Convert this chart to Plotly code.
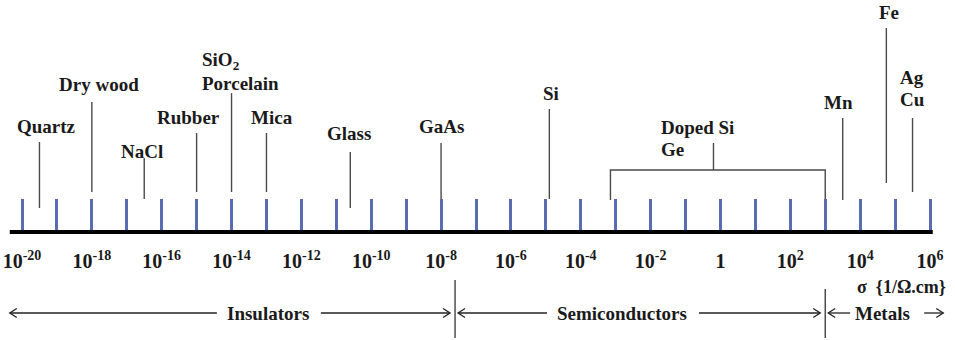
import plotly.graph_objects as go

# ---- data -------------------------------------------------------------
# conductivity scale: decades of sigma in 1/(ohm.cm)
exponents = list(range(-20, 7))
major_exp = [e for e in exponents if e % 2 == 0]
minor_exp = [e for e in exponents if e % 2 != 0]
tick_labels = ["1" if e == 0 else f"10<sup>{e}</sup>" for e in major_exp]

materials = ["Quartz", "Dry wood", "NaCl", "Rubber", "SiO<sub>2</sub><br>Porcelain",
             "Mica", "Glass", "GaAs", "Si", "Mn", "Fe", "Ag<br>Cu"]
log_sigma = [-19.5, -18, -16.5, -15, -14, -13, -10.6, -8, -4.9, 3.5, 4.75, 5.5]

doped_label = "Doped Si<br>Ge"
doped_range = [-3.15, 3.0]
doped_mid = -0.2

classes = ["Insulators", "Semiconductors", "Metals"]
class_edges = [-20.35, -7.6, 3.0, 6.38]
class_mid = [-12.96, -2.82, 4.63]
unit_label = "σ\u00a0 {1/Ω.cm}"

# ---- drawing layout (pixel heights above the scale line) ---------------
stem_base = [24, 40, 33, 40, 40, 40, 24, 33, 33, 32, 49, 40]
stem_top = [90, 130, 74, 99, 139, 99, 80, 89, 123, 114, 204, 114]
label_y = [106, 148, 81, 115, 171, 115, 99, 106, 139, 130, 220, 155]
label_dx = [7, 7, -2, -8, -32, 6, -1, 0, 2, -4, 3, -15]
line_gap = 22
doped_base, doped_bar, doped_stem, doped_y, doped_dx = 32, 62, 89, 105, -54
class_half = [41, 65, 30]

W, H = 955, 340
PX = 908 / 26                 # pixels per decade
X0 = -20 - 22 / PX            # left edge of the page in decades
Y_AXIS = 232                  # pixel row of the scale line
FONT = "Liberation Serif"
INK = "#1a1a1a"
STEM = "#4a4a4a"
TICK_BLUE = "#5a6cb0"

fig = go.Figure()

# material stems
xs, ys = [], []
for v, b, t in zip(log_sigma, stem_base, stem_top):
    xs += [v, v, None]
    ys += [b, t, None]
# bracket spanning the doped-semiconductor range
xs += [doped_range[0], doped_range[0], doped_range[1], doped_range[1], None,
       doped_mid, doped_mid]
ys += [doped_base, doped_bar, doped_bar, doped_base, None, doped_bar, doped_stem]
fig.add_trace(go.Scatter(x=xs, y=ys, mode="lines", hoverinfo="skip",
                         line=dict(color=STEM, width=1.4), showlegend=False))

annotations = []
lab_font = dict(family=FONT, size=19, color=INK, weight="bold")


def add_label(text, x, y_top, dx):
    lines = text.split("<br>")
    multi = len(lines) > 1
    for i, ln in enumerate(lines):
        annotations.append(dict(
            x=x, y=y_top - i * line_gap, xref="x", yref="y", text=ln,
            showarrow=False, font=lab_font, xshift=dx,
            xanchor="left" if multi else "center", yanchor="middle"))


for name, v, ly, dx in zip(materials, log_sigma, label_y, label_dx):
    add_label(name, v, ly, dx)
add_label(doped_label, doped_mid, doped_y, doped_dx)

# classification band below the scale: label flanked by two open arrows
ARROW_Y = -81
HEAD_L, HEAD_H = 7 / PX, 4.5
ax_, ay_ = [], []


def arrow(tail, tip):
    d = HEAD_L if tip > tail else -HEAD_L
    ax_.extend([tail, tip, None, tip - d, tip, tip - d, None])
    ay_.extend([ARROW_Y, ARROW_Y, None, ARROW_Y + HEAD_H, ARROW_Y,
                ARROW_Y - HEAD_H, None])


cls_font = dict(family=FONT, size=19, color=INK, weight="bold")
for i, (name, mid, half) in enumerate(zip(classes, class_mid, class_half)):
    left = class_edges[i] + (0 if i == 0 else 3 / PX)
    right = class_edges[i + 1] - (0 if i == len(classes) - 1 else 5 / PX)
    annotations.append(dict(x=mid, y=ARROW_Y, xref="x", yref="y", text=name,
                            showarrow=False, font=cls_font, yanchor="middle"))
    gap_l = 2 if name == "Metals" else 10
    arrow(mid - (half + gap_l) / PX, left)
    arrow(mid + (half + 12) / PX, right)

fig.add_trace(go.Scatter(x=ax_, y=ay_, mode="lines", hoverinfo="skip",
                         line=dict(color="#222", width=1.3), showlegend=False))

annotations.append(dict(x=948 / W, y=-55, xref="paper", yref="y", text=unit_label,
                        showarrow=False, xanchor="right", yanchor="middle",
                        font=dict(family=FONT, size=18, color=INK, weight="bold")))

shapes = [
    # scale line
    dict(type="line", xref="x", yref="y", x0=exponents[0] - 0.35,
         x1=exponents[-1] + 0.08, y0=0, y1=0, line=dict(color="black", width=4)),
    # class boundaries
    dict(type="line", xref="x", yref="y", x0=class_edges[1], x1=class_edges[1],
         y0=-48, y1=-106, line=dict(color="#333", width=1.3)),
    dict(type="line", xref="x", yref="y", x0=class_edges[2], x1=class_edges[2],
         y0=-57, y1=-106, line=dict(color="#333", width=1.3)),
]

fig.update_layout(
    width=W, height=H, margin=dict(l=0, r=0, t=0, b=0),
    paper_bgcolor="white", plot_bgcolor="white",
    annotations=annotations, shapes=shapes,
    xaxis=dict(range=[X0, X0 + W / PX], tickmode="array", tickvals=major_exp,
               ticktext=tick_labels, ticks="inside", ticklen=33, tickwidth=3,
               tickcolor=TICK_BLUE,
               minor=dict(tickvals=minor_exp, ticks="inside", ticklen=33,
                          tickwidth=3, tickcolor=TICK_BLUE, showgrid=False),
               showline=False, showgrid=False, zeroline=False,
               anchor="free", position=(H - Y_AXIS) / H,
               tickfont=dict(family=FONT, size=20, color=INK, weight="bold"),
               ticklabelstandoff=15, ticklabeloverflow="allow", fixedrange=True),
    yaxis=dict(range=[Y_AXIS - H, Y_AXIS], visible=False, fixedrange=True),
)

fig.write_html("out.html", config={"displayModeBar": False})
